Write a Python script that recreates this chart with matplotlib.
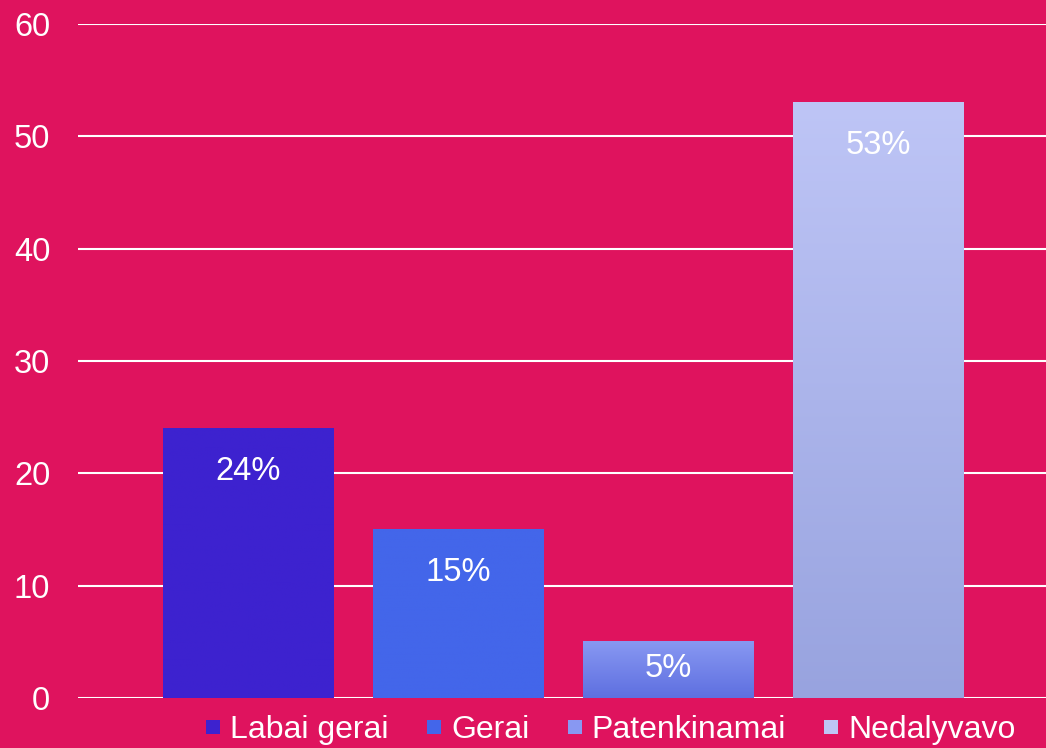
import matplotlib.pyplot as plt
import numpy as np
from matplotlib.colors import LinearSegmentedColormap
from matplotlib.lines import Line2D

plt.rcParams['font.family'] = ['Liberation Sans', 'DejaVu Sans']

categories = ['Labai gerai', 'Gerai', 'Patenkinamai', 'Nedalyvavo']
values = [24, 15, 5, 53]
labels = ['24%', '15%', '5%', '53%']
# (bottom colour, top colour) for every bar
bar_colors = [('#3D22CF', '#3D22CF'), ('#4366EA', '#4366EA'),
              ('#5E6FE0', '#8898F2'), ('#98A3DF', '#BEC5F6')]
yticks = [0, 10, 20, 30, 40, 50, 60]

bg = '#DF135E'
fs = 23.5
fig = plt.figure(figsize=(10.46, 7.48), dpi=100, facecolor=bg)
ax = fig.add_axes([0.0746, 0.0668, 0.9254, 0.9011])
ax.set_facecolor(bg)

w = 0.81
x = np.arange(len(categories))
for i, (v, (c0, c1)) in enumerate(zip(values, bar_colors)):
    cmap = LinearSegmentedColormap.from_list('g%d' % i, [c0, c1])
    grad = np.linspace(0, 1, 256).reshape(-1, 1)
    ax.imshow(grad, cmap=cmap, origin='lower', aspect='auto',
              extent=(x[i] - w / 2, x[i] + w / 2, 0, v), zorder=3)
    ly = v - 3.85 if v > 10 else v / 2 + 0.15
    ax.text(x[i], ly, labels[i], color='white', fontsize=fs,
            ha='center', va='center', zorder=4)

ax.set_xlim(-0.81, 3.8)
ax.set_ylim(0, 60)
ax.set_yticks(yticks)
ax.set_xticks([])
ax.grid(axis='y', color='white', linewidth=1.5, zorder=1)
ax.tick_params(axis='y', length=0, pad=20, labelsize=fs, labelcolor='white')
for s in ax.spines.values():
    s.set_visible(False)

handles = [Line2D([], [], marker='s', markersize=10.5, linestyle='none',
                  markerfacecolor=c[1], markeredgewidth=0) for c in bar_colors]
leg = fig.legend(handles, categories, loc='center', bbox_to_anchor=(0.584, 0.024),
                 ncol=4, frameon=False, fontsize=23, labelcolor='white',
                 handlelength=0.45, handletextpad=0.3, columnspacing=1.2)

fig.savefig('out.png', dpi=100, facecolor=bg)
